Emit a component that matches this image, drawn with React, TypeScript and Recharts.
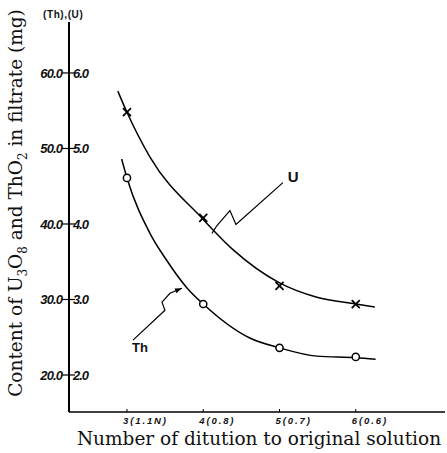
import { ComposedChart, Line, Scatter, XAxis, YAxis } from 'recharts';

// dilution number (x) and its normality label
const dilution = [3, 4, 5, 6];
const dilutionLabels = ['3(1.1N)', '4(0.8)', '5(0.7)', '6(0.6)'];

// measured points, in U units (Th scale is x10)
const uValues = [5.48, 4.08, 3.18, 2.94];
const thValues = [4.61, 2.94, 2.36, 2.24];

// hand drawn smooth curves
const uCurveX = [2.88, 3, 3.3, 4, 4.39, 5, 5.49, 6, 6.25];
const uCurveY = [5.76, 5.48, 4.89, 4.06, 3.66, 3.22, 3.03, 2.94, 2.9];
const thCurveX = [2.93, 3, 3.3, 3.52, 3.79, 4, 4.61, 5, 5.49, 6, 6.26];
const thCurveY = [4.86, 4.61, 3.88, 3.52, 3.15, 2.94, 2.49, 2.36, 2.25, 2.23, 2.21];

// y ticks: left = Th, right = U
const yTicks = [2, 3, 4, 5, 6];
const thTickLabels = ['20.0', '30.0', '40.0', '50.0', '60.0'];
const uTickLabels = ['2.0', '3.0', '4.0', '5.0', '6.0'];

// leader lines for the curve labels
const uLeaderX = [4.114, 4.18, 4.35, 4.429, 5.045];
const uLeaderY = [3.875, 3.98, 4.178, 3.993, 4.548];
const thLeaderX = [3.079, 3.498, 3.459, 3.564, 3.721];
const thLeaderY = [2.462, 2.858, 2.964, 3.083, 3.149];

const curveLabels = [
  { x: 5.18, y: 4.56, text: 'U', size: 15 },
  { x: 3.17, y: 2.3, text: 'Th', size: 13 },
];

const toPoints = (xs: number[], ys: number[]) => xs.map((x, i) => ({ x, y: ys[i] }));

const uCurve = toPoints(uCurveX, uCurveY);
const thCurve = toPoints(thCurveX, thCurveY);
const uPoints = toPoints(dilution, uValues);
const thPoints = toPoints(dilution, thValues);
const uLeader = toPoints(uLeaderX, uLeaderY);
const thLeader = toPoints(thLeaderX, thLeaderY);

const serif = '"DejaVu Serif", serif';
const hand = '"Liberation Sans", sans-serif';
const AXIS_Y = 412;

function XTick({ x, payload, index }: any) {
  return (
    <g>
      <line x1={x} y1={AXIS_Y} x2={x} y2={AXIS_Y - 3} stroke="#000" strokeWidth={1} />
      <text x={x - 4} y={AXIS_Y + 12} fontFamily={hand} fontSize={9.5} fontWeight="bold" fontStyle="italic" letterSpacing={1.9} fill="#111">
        {dilutionLabels[index] ?? payload.value}
      </text>
    </g>
  );
}

function YTick({ x, y, index }: any) {
  return (
    <g>
      <line x1={x - 7} y1={y} x2={x + 6} y2={y} stroke="#000" strokeWidth={1.2} />
      <text x={x - 7} y={y + 5} textAnchor="end" fontFamily={hand} fontSize={13} fontWeight="bold" fontStyle="italic" letterSpacing={-0.9} fill="#111">
        {thTickLabels[index]}
      </text>
      <text x={x + 4} y={y + 5} fontFamily={hand} fontSize={13} fontWeight="bold" fontStyle="italic" letterSpacing={-1} fill="#111">
        {uTickLabels[index]}
      </text>
    </g>
  );
}

function YTitle() {
  return (
    <g>
      <text x={22} y={203} transform="rotate(-90 22 203)" textAnchor="middle" fontFamily={serif} fontSize={18.5} fill="#111">
        <tspan>Content of U</tspan>
        <tspan dy={5} fontSize={12}>3</tspan>
        <tspan dy={-5}>O</tspan>
        <tspan dy={5} fontSize={12}>8</tspan>
        <tspan dy={-5}> and ThO</tspan>
        <tspan dy={5} fontSize={12}>2</tspan>
        <tspan dy={-5}> in filtrate (mg)</tspan>
      </text>
      <text x={43} y={18} fontFamily={hand} fontSize={10} fontWeight="bold" letterSpacing={0.6} fill="#111">
        (Th),(U)
      </text>
    </g>
  );
}

function XTitle() {
  return (
    <text x={259} y={445} textAnchor="middle" fontFamily={serif} fontSize={18.5} fill="#111">
      Number of ditution to original solution
    </text>
  );
}

const Cross = ({ cx, cy }: any) => (
  <g stroke="#000" strokeWidth={1.8}>
    <line x1={cx - 4} y1={cy - 4} x2={cx + 4} y2={cy + 4} />
    <line x1={cx - 4} y1={cy + 4} x2={cx + 4} y2={cy - 4} />
  </g>
);

const Ring = ({ cx, cy }: any) => <circle cx={cx} cy={cy} r={3.6} fill="#fff" stroke="#000" strokeWidth={1.5} />;

const LabelText = ({ cx, cy, payload }: any) => (
  <text x={cx} y={cy} textAnchor="middle" fontFamily={hand} fontSize={payload.size} fontWeight="bold" fill="#111">
    {payload.text}
  </text>
);

const ArrowDot = (props: any) => {
  const { cx, cy, index, points } = props;
  if (index !== thLeader.length - 1) return <g key={`d-${index}`} />;
  let angle = -22;
  if (points && points[index - 1]) {
    const p = points[index - 1];
    angle = (Math.atan2(cy - p.y, cx - p.x) * 180) / Math.PI;
  }
  return (
    <polygon
      key={`d-${index}`}
      points={`${cx},${cy} ${cx - 7},${cy - 2.5} ${cx - 7},${cy + 2.5}`}
      transform={`rotate(${angle} ${cx} ${cy})`}
      fill="#000"
    />
  );
};

export default function App() {
  return (
    <div style={{ position: 'fixed', left: 0, top: 0, width: 447, height: 453, background: '#fff' }}>
      <ComposedChart width={447} height={453} margin={{ top: 22, right: 2, bottom: 11, left: 39 }}>
        <XAxis
          type="number"
          dataKey="x"
          domain={[2.24, 7.17]}
          ticks={dilution}
          allowDataOverflow
          axisLine={{ stroke: '#000', strokeWidth: 1.5 }}
          tickLine={false}
          tickSize={0}
          tickMargin={0}
          height={30}
          tick={<XTick />}
          label={{ content: () => <XTitle /> }}
        />
        <YAxis
          type="number"
          domain={[1.51, 6.675]}
          ticks={yTicks}
          allowDataOverflow
          axisLine={{ stroke: '#000', strokeWidth: 2 }}
          tickLine={false}
          tickSize={0}
          tickMargin={0}
          width={30}
          tick={<YTick />}
          label={{ content: () => <YTitle /> }}
        />
        <Line data={uCurve} dataKey="y" type="monotone" stroke="#000" strokeWidth={1.5} dot={false} isAnimationActive={false} />
        <Line data={thCurve} dataKey="y" type="monotone" stroke="#000" strokeWidth={1.5} dot={false} isAnimationActive={false} />
        <Line data={uLeader} dataKey="y" type="linear" stroke="#000" strokeWidth={1.2} dot={false} isAnimationActive={false} />
        <Line data={thLeader} dataKey="y" type="linear" stroke="#000" strokeWidth={1.2} dot={ArrowDot} isAnimationActive={false} />
        <Scatter data={uPoints} dataKey="y" shape={Cross} isAnimationActive={false} />
        <Scatter data={thPoints} dataKey="y" shape={Ring} isAnimationActive={false} />
        <Scatter data={curveLabels} dataKey="y" shape={LabelText} isAnimationActive={false} />
      </ComposedChart>
    </div>
  );
}
